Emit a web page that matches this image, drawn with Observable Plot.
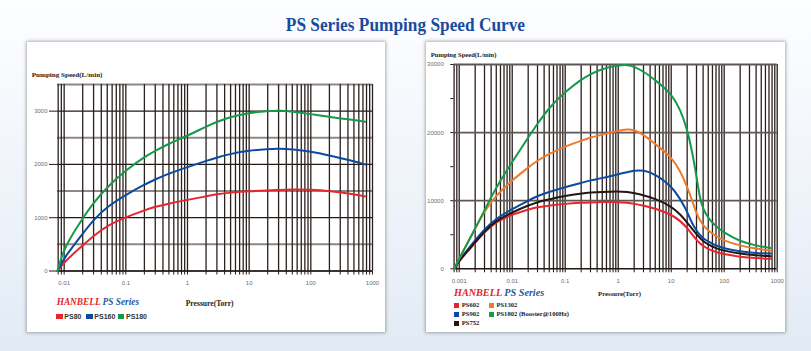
<!DOCTYPE html>
<html>
<head>
<meta charset="utf-8">
<script src="https://cdn.jsdelivr.net/npm/d3@7"></script>
<script src="https://cdn.jsdelivr.net/npm/@observablehq/plot@0.6"></script>
<style>
html,body{margin:0;padding:0;}
body{width:811px;height:351px;position:relative;overflow:hidden;
  background:linear-gradient(180deg,#fdfeff 0%,#f4f7fc 35%,#e9f0f8 75%,#e2eaf5 100%);
  font-family:"Liberation Serif",serif;}
.abs{position:absolute;white-space:nowrap;line-height:1;}
.card{position:absolute;background:#fff;box-shadow:0 0 3px 1px rgba(80,80,80,0.45);}
.title{position:absolute;left:0;width:811px;text-align:center;top:15px;line-height:1;}
.title span{display:inline-block;font-weight:bold;font-size:19px;color:#1a4b9b;transform:scaleX(0.91);transform-origin:center;}
.ax{font-weight:bold;color:#222;}
.brand{font-weight:bold;font-style:italic;}
.sq{position:absolute;}
.plotwrap{position:absolute;}
.plotwrap svg{overflow:visible;}
.plotwrap g[aria-label="x-axis tick label"] text,
.plotwrap g[aria-label="y-axis tick label"] text{fill:#6b6d75;}
</style>
</head>
<body>
<div class="title"><span id="title"></span></div>
<div class="card" style="left:27px;top:42px;width:358px;height:290px;"></div>
<div class="card" style="left:426px;top:42px;width:359px;height:290px;"></div>
<div id="root"></div>
<script>
// ---------------- data ----------------
const titleText = "PS Series Pumping Speed Curve";
const yTitle = "Pumping Speed(L/min)";
const xTitle = "Pressure(Torr)";

// Left chart: PS80 / PS160 / PS180
const leftPressure = [0.0078, 0.01, 0.02, 0.03, 0.05, 0.1, 0.2, 0.3, 0.5, 1, 2, 3, 5, 10, 20, 30, 50, 100, 200, 500, 760];
const ps80  = [0, 170, 480, 660, 850, 1010, 1140, 1205, 1268, 1335, 1400, 1440, 1472, 1497, 1512, 1520, 1530, 1528, 1500, 1440, 1400];
const ps160 = [0, 250, 700, 960, 1210, 1430, 1620, 1720, 1830, 1950, 2065, 2130, 2200, 2260, 2290, 2295, 2285, 2245, 2170, 2060, 2000];
const ps180 = [0, 450, 990, 1280, 1580, 1890, 2140, 2255, 2390, 2540, 2710, 2800, 2895, 2965, 3005, 3012, 2995, 2945, 2890, 2835, 2800];
const leftNames = ["PS80", "PS160", "PS180"];
const leftColors = ["#e8242c", "#0b4aa0", "#16994a"];
const leftXTicks = [0.01, 0.1, 1, 10, 100, 1000];
const leftYTicks = [0, 1000, 2000, 3000];
const leftYMinor = [500, 1500, 2500, 3500];

// Right chart: PS602 / PS902 / PS752 / PS1302 / PS1802
const rightPressure = [0.0008, 0.001, 0.002, 0.003, 0.005, 0.01, 0.02, 0.03, 0.05, 0.1, 0.2, 0.3, 0.5, 1, 1.5, 2, 3, 5, 10, 15, 20, 25, 30, 35, 40, 50, 70, 100, 200, 400, 760];
const ps602  = [0, 1200, 3800, 5400, 6900, 8000, 8700, 9050, 9300, 9550, 9700, 9750, 9800, 9800, 9700, 9550, 9300, 8850, 8000, 7000, 6000, 5000, 4250, 3750, 3350, 2900, 2450, 2150, 1750, 1550, 1460];
const ps902  = [0, 1250, 4200, 5800, 7400, 8800, 10000, 10700, 11300, 12000, 12600, 13000, 13300, 13900, 14200, 14400, 14500, 13900, 12200, 10200, 8400, 6600, 5600, 4950, 4500, 4000, 3400, 3000, 2550, 2300, 2240];
const ps752  = [0, 1250, 3900, 5500, 7100, 8300, 9300, 9800, 10200, 10700, 11050, 11200, 11300, 11370, 11300, 11100, 10800, 10300, 9200, 7950, 6800, 5800, 5100, 4500, 4050, 3550, 3000, 2650, 2200, 1950, 1850];
const ps1302 = [0, 1500, 5900, 8500, 10800, 13000, 14900, 15900, 16900, 18000, 18800, 19300, 19700, 20300, 20500, 20400, 19700, 18300, 16500, 14300, 12000, 10000, 8100, 7100, 6400, 5600, 4800, 4100, 3400, 2950, 2680];
const ps1802 = [0, 1500, 5900, 8600, 12000, 15700, 19300, 21300, 23700, 26000, 27800, 28600, 29400, 29900, 29950, 29700, 29000, 27700, 25800, 23300, 20500, 17100, 13600, 10200, 8800, 7400, 6200, 5300, 4000, 3400, 3050];
const rightNames = ["PS602", "PS902", "PS752", "PS1302", "PS1802 (Booster@100Hz)"];
const rightColors = ["#e8242c", "#0b4aa0", "#231815", "#f07a2a", "#16994a"];
const rightXTicks = [0.001, 0.01, 0.1, 1, 10, 100, 1000];
const rightYTicks = [0, 10000, 20000, 30000];
const rightYMinor = [5000, 15000, 25000];

// ---------------- helpers ----------------
const root = document.getElementById("root");
document.getElementById("title").textContent = titleText;

function addText(txt, left, top, size, cls, extra) {
  const d = document.createElement("div");
  d.className = "abs " + (cls || "");
  d.style.left = left + "px";
  d.style.top = top + "px";
  d.style.fontSize = size + "px";
  if (extra) Object.assign(d.style, extra);
  d.innerHTML = txt;
  root.appendChild(d);
  return d;
}
function addSquare(left, top, w, h, color) {
  const d = document.createElement("div");
  d.className = "sq";
  Object.assign(d.style, {left: left + "px", top: top + "px", width: w + "px", height: h + "px", background: color});
  root.appendChild(d);
}
function logGrid(lo, hi) {
  const out = [];
  for (let k = -4; k <= 3; k++) for (let m = 1; m <= 9; m++) {
    const v = +(m * Math.pow(10, k)).toPrecision(6);
    if (v >= lo && v <= hi) out.push(v);
  }
  return out;
}
function fmt(d) { return String(d); }

// ---------------- left chart ----------------
{
  const rows = leftPressure.map((p, i) => ({p, PS80: ps80[i], PS160: ps160[i], PS180: ps180[i]}));
  const grid = logGrid(0.008, 1000);
  const chart = Plot.plot({
    width: 360, height: 225,
    marginLeft: 37, marginRight: 8, marginTop: 14, marginBottom: 24.5,
    x: {type: "log", domain: [0.0078, 1000], label: null},
    y: {domain: [0, 3500], label: null},
    style: {fontFamily: "Liberation Sans, Arial, sans-serif", fontSize: "6px", background: "transparent"},
    marks: [
      Plot.ruleY(leftYMinor, {stroke: "#8e8987", strokeWidth: 2}),
      Plot.ruleY(leftYTicks, {stroke: "#231815", strokeWidth: 1.2}),
      Plot.ruleX(grid, {stroke: "#2a201e", strokeWidth: 1.3}),
      Plot.ruleY([0], {stroke: "#231815", strokeWidth: 1.6}),
      Plot.axisX(grid, {tickSize: 4, tickFormat: () => "", stroke: "#231815"}),
      Plot.axisX(leftXTicks, {tickSize: 0, tickPadding: 10, tickFormat: fmt}),
      Plot.axisY(leftYTicks, {tickSize: 8, tickPadding: 2, tickFormat: fmt, stroke: "#231815"}),
      ...leftNames.map((n, i) => Plot.line(rows, {x: "p", y: n, stroke: leftColors[i], strokeWidth: 2, curve: "basis"}))
    ]
  });
  const w = document.createElement("div");
  w.className = "plotwrap";
  w.style.left = "20px"; w.style.top = "70px";
  w.appendChild(chart);
  root.appendChild(w);

  addText(yTitle, 31.7, 72.3, 7.1, "ax");
  addText('<span style="color:#e41e26">HANBELL</span> <span style="color:#1f56a8">PS Series</span>', 56.7, 298.4, 9.3, "brand");
  addText(xTitle, 185.7, 300.2, 7.6, "ax");
  const sqX = [56, 86, 117.7];
  leftNames.forEach((n, i) => {
    addSquare(sqX[i], 314, 6.7, 4.7, leftColors[i]);
    addText(n, sqX[i] + 8.3, 312.9, 7, "", {fontFamily: "Liberation Sans, Arial, sans-serif", fontWeight: "bold", color: "#333"});
  });
}

// ---------------- right chart ----------------
{
  const rows = rightPressure.map((p, i) => ({p, PS602: ps602[i], PS902: ps902[i], PS752: ps752[i], PS1302: ps1302[i], PS1802: ps1802[i]}));
  const keys = ["PS602", "PS902", "PS752", "PS1302", "PS1802"];
  const grid = logGrid(0.0008, 1000);
  const chart = Plot.plot({
    width: 365, height: 230,
    marginLeft: 33.3, marginRight: 8.3, marginTop: 6, marginBottom: 19.7,
    x: {type: "log", domain: [0.00079, 1000], label: null},
    y: {domain: [0, 30000], label: null},
    style: {fontFamily: "Liberation Sans, Arial, sans-serif", fontSize: "6px", background: "transparent"},
    marks: [
      Plot.ruleX(grid, {stroke: "#2a201e", strokeWidth: 1.3}),
      Plot.ruleY(rightYTicks.slice(1), {stroke: "#5f5756", strokeWidth: 1.8}),
      Plot.ruleY([0], {stroke: "#231815", strokeWidth: 1.6}),
      Plot.axisX(grid, {tickSize: 4, tickFormat: () => "", stroke: "#231815"}),
      Plot.axisX(rightXTicks, {tickSize: 0, tickPadding: 10, tickFormat: fmt}),
      Plot.axisY(rightYMinor, {tickSize: 3, tickFormat: () => "", stroke: "#231815"}),
      Plot.axisY(rightYTicks, {tickSize: 3, tickPadding: 7, tickFormat: fmt, stroke: "#231815"}),
      ...keys.map((k, i) => Plot.line(rows, {x: "p", y: k, stroke: rightColors[i], strokeWidth: 2, curve: "basis"}))
    ]
  });
  const w = document.createElement("div");
  w.className = "plotwrap";
  w.style.left = "420px"; w.style.top = "58px";
  w.appendChild(chart);
  root.appendChild(w);

  addText(yTitle, 430.7, 51.5, 6.6, "ax");
  addText('<span style="color:#e41e26">HANBELL</span> <span style="color:#1f56a8">PS Series</span>', 454, 288.2, 10.2, "brand");
  addText(xTitle, 598, 290.7, 6.8, "ax");
  // legend: column-major, 3 rows
  const colX = [454.3, 489];
  const rowTop = [302.8, 311.8, 320.8];
  rightNames.forEach((n, i) => {
    const c = Math.floor(i / 3), r = i % 3;
    addSquare(colX[c], rowTop[r], 5, 5, rightColors[i]);
    addText(n, colX[c] + 7.4, rowTop[r] - 0.8, 6.6, "ax");
  });
}
</script>
</body>
</html>
